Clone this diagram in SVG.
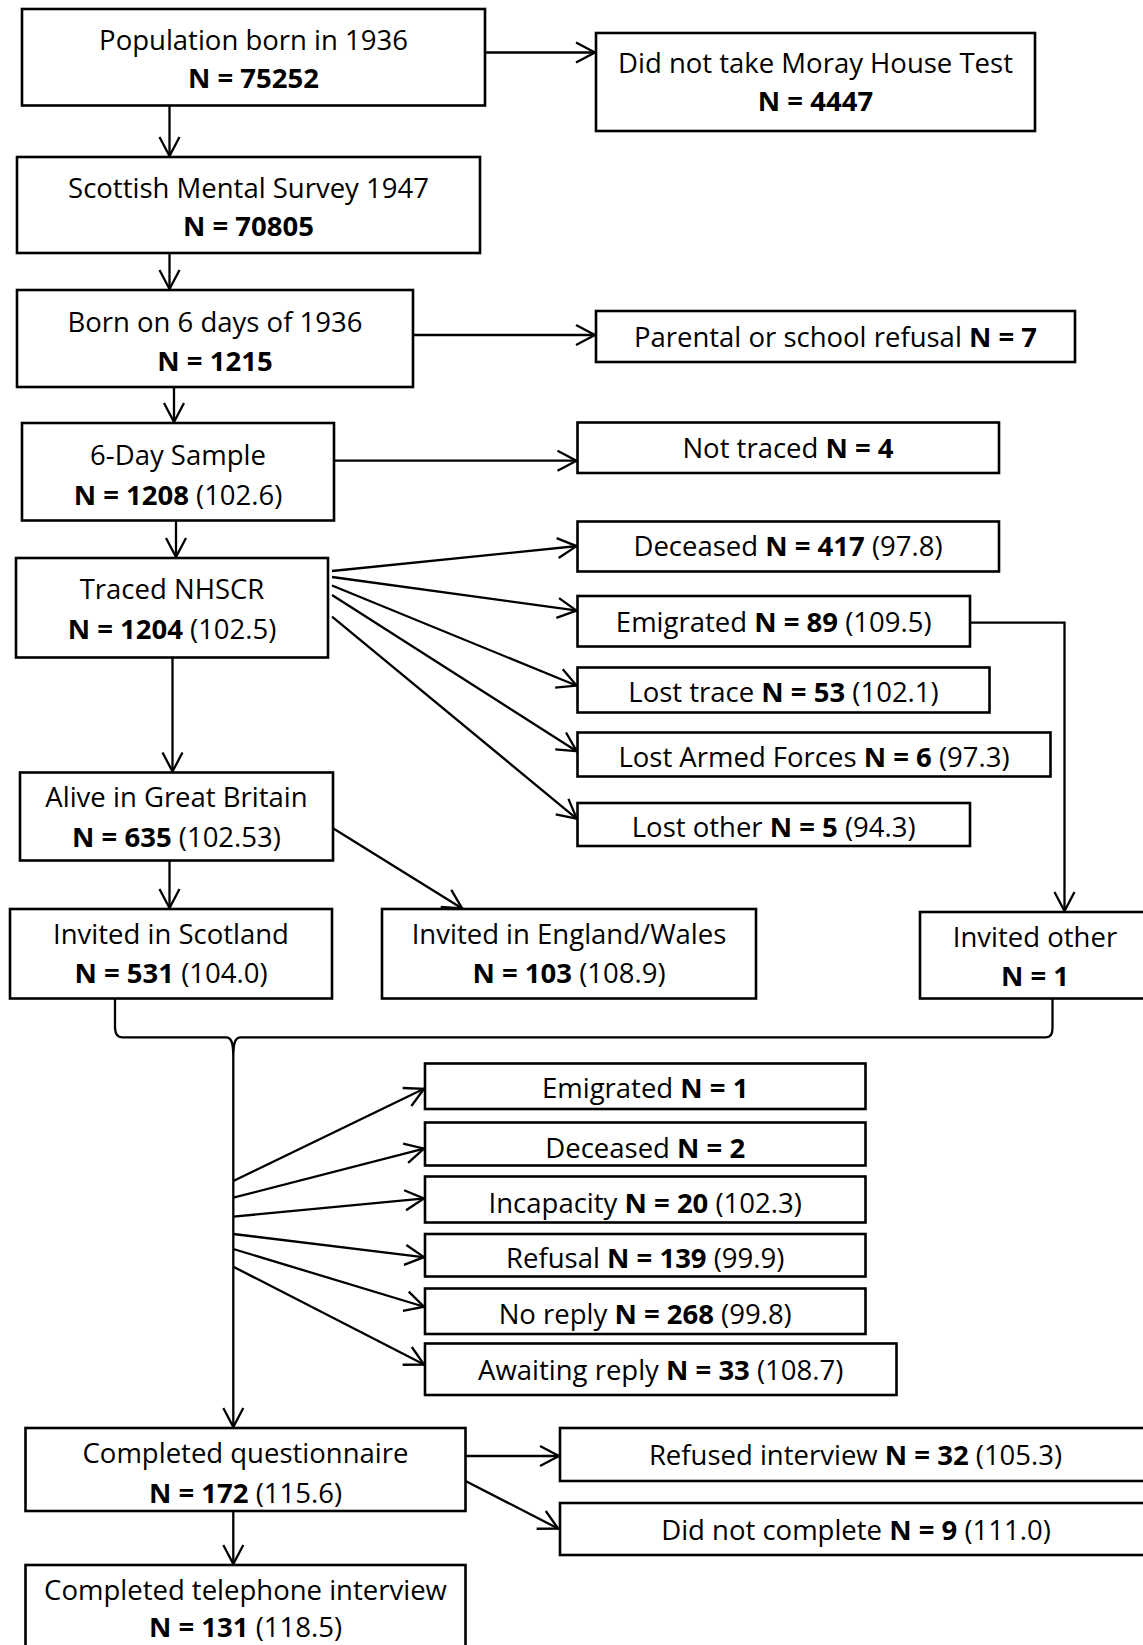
<svg xmlns="http://www.w3.org/2000/svg" width="1143" height="1645" viewBox="0 0 1143 1645">
<style>
text{font-family:"Open Sans","Noto Sans","Liberation Sans",sans-serif;font-size:27.5px;fill:#000;text-anchor:middle}
.b{font-weight:bold}
.box{fill:#fff;stroke:#000;stroke-width:2.6}
.c{fill:none;stroke:#000;stroke-width:2.3}
.a{marker-end:url(#ah)}
</style>
<defs>
<marker id="ah" markerUnits="userSpaceOnUse" markerWidth="26" markerHeight="26" viewBox="-22 -13 26 26" refX="1" refY="0" orient="auto">
<path d="M-19,-10 L0,0 L-19,10" fill="none" stroke="#000" stroke-width="2.3"/>
</marker>
</defs>
<rect width="1143" height="1645" fill="#fff"/>
<g id="connectors">
<line class="c a" x1="169.5" y1="105.5" x2="169.5" y2="157"/>
<line class="c a" x1="485" y1="52.5" x2="596" y2="52.5"/>
<line class="c a" x1="169.5" y1="253" x2="169.5" y2="290"/>
<line class="c a" x1="413" y1="335" x2="596" y2="335"/>
<line class="c a" x1="174" y1="387" x2="174" y2="423"/>
<line class="c a" x1="334" y1="460.7" x2="577.5" y2="460.7"/>
<line class="c a" x1="176" y1="520.5" x2="176" y2="558"/>
<line class="c a" x1="332" y1="571" x2="577.5" y2="546"/>
<line class="c a" x1="332" y1="577" x2="577.5" y2="610.7"/>
<line class="c a" x1="332" y1="585.5" x2="577.5" y2="686"/>
<line class="c a" x1="332" y1="595" x2="577.5" y2="751.7"/>
<line class="c a" x1="332" y1="616.7" x2="577.5" y2="819.3"/>
<line class="c a" x1="172.5" y1="657.5" x2="172.5" y2="772.5"/>
<polyline class="c a" points="970,622.7 1064.5,622.7 1064.5,912"/>
<line class="c a" x1="169.5" y1="860.5" x2="169.5" y2="909"/>
<line class="c a" x1="333" y1="828.3" x2="463" y2="909"/>
<path class="c" d="M115,998.5 L115,1028 Q115.5,1037.3 122,1037.3 L226,1037.3 C231,1037.3 233.3,1042 233.3,1057 C233.3,1042 235.6,1037.3 240.6,1037.3 L1046,1037.3 Q1052.5,1037.3 1052.5,1028 L1052.5,998.5"/>
<line class="c a" x1="233.3" y1="1057" x2="233.3" y2="1428"/>
<line class="c a" x1="233.3" y1="1181" x2="425" y2="1088.3"/>
<line class="c a" x1="233.3" y1="1197.7" x2="425" y2="1148.3"/>
<line class="c a" x1="233.3" y1="1216.7" x2="425" y2="1198.3"/>
<line class="c a" x1="233.3" y1="1234" x2="425" y2="1257.3"/>
<line class="c a" x1="233.3" y1="1249" x2="425" y2="1307"/>
<line class="c a" x1="233.3" y1="1266.7" x2="425" y2="1365"/>
<line class="c a" x1="233.3" y1="1511" x2="233.3" y2="1565"/>
<line class="c a" x1="465.5" y1="1456" x2="560" y2="1456"/>
<line class="c a" x1="465.5" y1="1481" x2="559" y2="1529"/>
</g>
<g id="n1"><rect class="box" x="22" y="9" width="463" height="96.5"/><text x="253.5" y="49.5">Population born in 1936</text><text x="253.5" y="88" class="b">N = 75252</text></g>
<g id="n2"><rect class="box" x="596" y="33" width="439" height="98"/><text x="815.5" y="72.5">Did not take Moray House Test</text><text x="815.5" y="111" class="b">N = 4447</text></g>
<g id="n3"><rect class="box" x="17" y="157" width="463" height="96"/><text x="248.5" y="198">Scottish Mental Survey 1947</text><text x="248.5" y="236" class="b">N = 70805</text></g>
<g id="n4"><rect class="box" x="17" y="290" width="396" height="97"/><text x="215" y="331.5">Born on 6 days of 1936</text><text x="215" y="370.5" class="b">N = 1215</text></g>
<g id="n5"><rect class="box" x="596" y="311" width="479" height="51"/><text x="835.5" y="346.5">Parental or school refusal <tspan class="b">N = 7</tspan></text></g>
<g id="n6"><rect class="box" x="22" y="423" width="312" height="97.5"/><text x="178" y="465">6-Day Sample</text><text x="178" y="505"><tspan class="b">N = 1208</tspan> (102.6)</text></g>
<g id="n7"><rect class="box" x="577.5" y="422.5" width="421.5" height="50.5"/><text x="788" y="458">Not traced <tspan class="b">N = 4</tspan></text></g>
<g id="n8"><rect class="box" x="16" y="558" width="312" height="99.5"/><text x="172" y="599">Traced NHSCR</text><text x="172" y="638.5"><tspan class="b">N = 1204</tspan> (102.5)</text></g>
<g id="n9"><rect class="box" x="577.5" y="521.5" width="421.5" height="50"/><text x="788" y="556">Deceased <tspan class="b">N = 417</tspan> (97.8)</text></g>
<g id="n10"><rect class="box" x="577.5" y="596" width="392.5" height="50.5"/><text x="773.7" y="631.5">Emigrated <tspan class="b">N = 89</tspan> (109.5)</text></g>
<g id="n11"><rect class="box" x="577.5" y="667.5" width="412" height="45"/><text x="783.5" y="701.5">Lost trace <tspan class="b">N = 53</tspan> (102.1)</text></g>
<g id="n12"><rect class="box" x="577.5" y="732.5" width="473" height="44"/><text x="814" y="766.5">Lost Armed Forces <tspan class="b">N = 6</tspan> (97.3)</text></g>
<g id="n13"><rect class="box" x="577.5" y="803" width="392.5" height="43"/><text x="773.7" y="836.5">Lost other <tspan class="b">N = 5</tspan> (94.3)</text></g>
<g id="n14"><rect class="box" x="20" y="772.5" width="313" height="88"/><text x="176.5" y="806.5">Alive in Great Britain</text><text x="176.5" y="846.5"><tspan class="b">N = 635</tspan> (102.53)</text></g>
<g id="n15"><rect class="box" x="10" y="909" width="322" height="89.5"/><text x="171" y="944">Invited in Scotland</text><text x="171" y="983"><tspan class="b">N = 531</tspan> (104.0)</text></g>
<g id="n16"><rect class="box" x="382" y="909" width="374" height="89.5"/><text x="569" y="944">Invited in England/Wales</text><text x="569" y="983"><tspan class="b">N = 103</tspan> (108.9)</text></g>
<g id="n17"><rect class="box" x="920" y="912" width="228" height="86.5"/><text x="1035" y="946.7">Invited other</text><text x="1035" y="986" class="b">N = 1</text></g>
<g id="n18"><rect class="box" x="425" y="1063.5" width="440.5" height="45.5"/><text x="645.2" y="1098">Emigrated <tspan class="b">N = 1</tspan></text></g>
<g id="n19"><rect class="box" x="425" y="1122.5" width="440.5" height="43"/><text x="645.2" y="1158">Deceased <tspan class="b">N = 2</tspan></text></g>
<g id="n20"><rect class="box" x="425" y="1176.5" width="440.5" height="46"/><text x="645.2" y="1213">Incapacity <tspan class="b">N = 20</tspan> (102.3)</text></g>
<g id="n21"><rect class="box" x="425" y="1234" width="440.5" height="42.5"/><text x="645.2" y="1268">Refusal <tspan class="b">N = 139</tspan> (99.9)</text></g>
<g id="n22"><rect class="box" x="425" y="1288.5" width="440.5" height="45.5"/><text x="645.2" y="1324">No reply <tspan class="b">N = 268</tspan> (99.8)</text></g>
<g id="n23"><rect class="box" x="425" y="1343.5" width="471.5" height="51.5"/><text x="660.7" y="1380">Awaiting reply <tspan class="b">N = 33</tspan> (108.7)</text></g>
<g id="n24"><rect class="box" x="25.5" y="1428" width="440" height="83"/><text x="245.5" y="1463">Completed questionnaire</text><text x="245.5" y="1502.5"><tspan class="b">N = 172</tspan> (115.6)</text></g>
<g id="n25"><rect class="box" x="25.5" y="1565" width="440" height="90"/><text x="245.5" y="1600">Completed telephone interview</text><text x="245.5" y="1637"><tspan class="b">N = 131</tspan> (118.5)</text></g>
<g id="n26"><rect class="box" x="560" y="1428" width="592" height="53"/><text x="855.5" y="1465">Refused interview <tspan class="b">N = 32</tspan> (105.3)</text></g>
<g id="n27"><rect class="box" x="560" y="1503" width="592" height="52"/><text x="856" y="1540">Did not complete <tspan class="b">N = 9</tspan> (111.0)</text></g>
</svg>
